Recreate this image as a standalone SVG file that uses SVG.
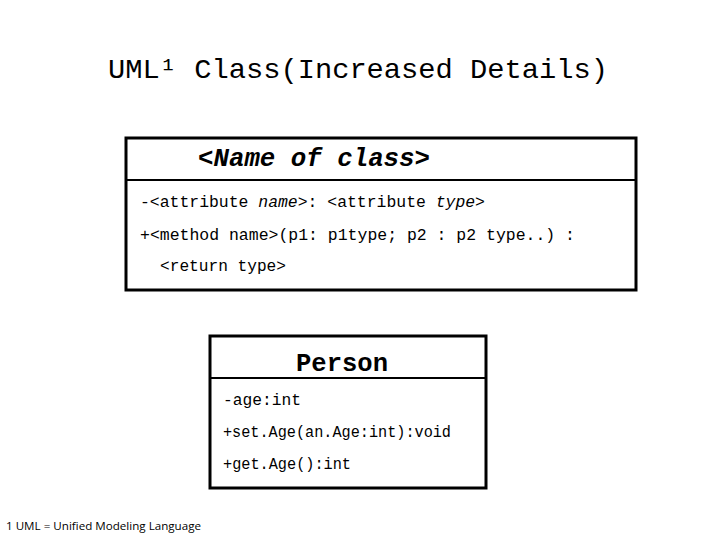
<svg xmlns="http://www.w3.org/2000/svg" width="720" height="540" viewBox="0 0 720 540">
<style>
.m{font-family:"Liberation Mono","DejaVu Sans Mono",monospace;fill:#000}
.box{fill:#fff;stroke:#000;stroke-width:3}
.ln{stroke:#000;stroke-width:2}
</style>
<rect width="720" height="540" fill="#fff"/>
<text class="m" x="108" y="78" font-size="28" textLength="500" lengthAdjust="spacingAndGlyphs">UML¹ Class(Increased Details)</text>
<g id="class-template">
<rect class="box" x="126" y="138" width="510" height="152"/>
<line class="ln" x1="126" y1="180" x2="636" y2="180"/>
<text class="m" x="198" y="166" font-size="25" font-weight="bold" font-style="italic" textLength="232" lengthAdjust="spacingAndGlyphs">&lt;Name of class&gt;</text>
<text class="m" x="140" y="207" font-size="16" textLength="345" lengthAdjust="spacingAndGlyphs">-&lt;attribute <tspan font-style="italic">name</tspan>&gt;: &lt;attribute <tspan font-style="italic">type</tspan>&gt;</text>
<text class="m" x="140" y="240" font-size="16" textLength="435" lengthAdjust="spacingAndGlyphs">+&lt;method name&gt;(p1: p1type; p2 : p2 type..) :</text>
<text class="m" x="160" y="271" font-size="16" textLength="126" lengthAdjust="spacingAndGlyphs">&lt;return type&gt;</text>
</g>
<g id="person">
<rect class="box" x="210" y="336" width="276" height="152"/>
<line class="ln" x1="210" y1="378" x2="486" y2="378"/>
<text class="m" x="296" y="371" font-size="25" font-weight="bold" textLength="92" lengthAdjust="spacingAndGlyphs">Person</text>
<text class="m" x="223" y="405" font-size="16" textLength="78" lengthAdjust="spacingAndGlyphs">-age:int</text>
<text class="m" x="223" y="437" font-size="16" textLength="228" lengthAdjust="spacingAndGlyphs">+set.Age(an.Age:int):void</text>
<text class="m" x="223" y="469" font-size="16" textLength="128" lengthAdjust="spacingAndGlyphs">+get.Age():int</text>
</g>
<text x="6" y="530" font-family="'Open Sans','Liberation Sans',sans-serif" font-size="11" textLength="195" lengthAdjust="spacingAndGlyphs">1 UML = Unified Modeling Language</text>
</svg>
